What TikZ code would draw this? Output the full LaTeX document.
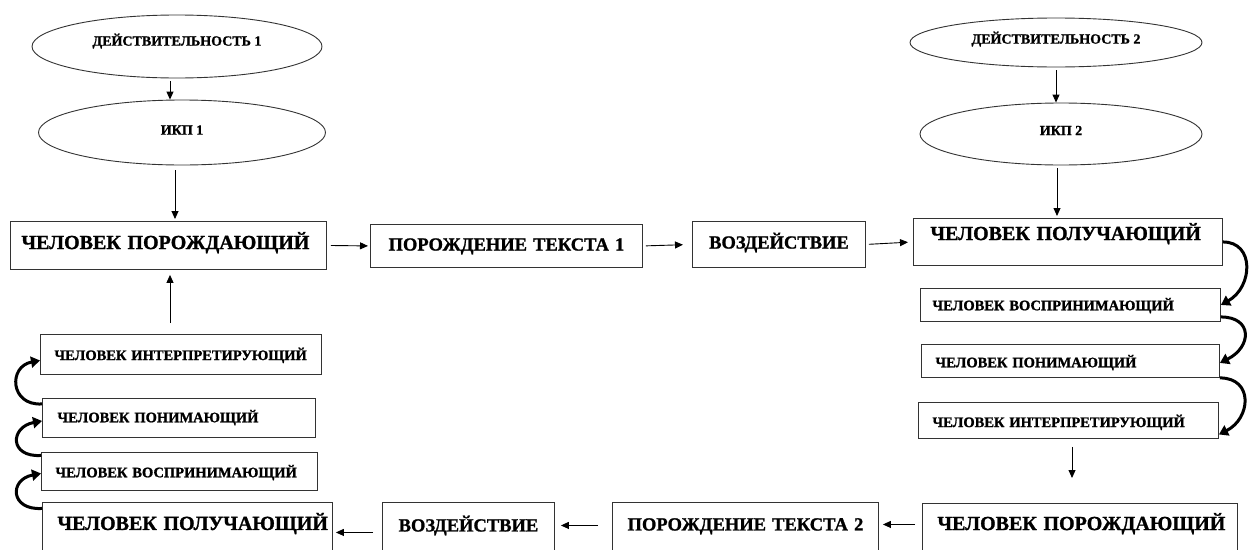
\documentclass[tikz,border=0pt]{standalone}
\usepackage{fontspec}
\setmainfont{Liberation Serif}[BoldFont={Liberation Serif Bold}, BoldFeatures={FakeBold=1.2}]
\usetikzlibrary{arrows.meta,shapes.geometric}
\tikzset{
  bx/.style={draw=black!80, line width=0.9pt, anchor=north west, inner ysep=0pt, align=left},
  cbx/.style={bx, align=center},
  el/.style={draw=black!80, line width=0.9pt, ellipse, inner sep=0pt, align=center, font=\fontsize{14}{16}\selectfont\bfseries},
  arr/.style={line width=0.9pt, -{Triangle[length=8pt,width=7pt]}},
  curv/.style={line width=3pt, -{Triangle[length=9pt,width=11pt]}},
  fL/.style={font=\fontsize{20}{24}\selectfont\bfseries},
  fM/.style={font=\fontsize{18.5}{22}\selectfont\bfseries},
  fS/.style={font=\fontsize{14.5}{17}\selectfont\bfseries},
}
\begin{document}
\begin{tikzpicture}[x=1pt,y=-1pt]
\clip (0,0) rectangle (1252,549);
\fill[white] (0,0) rectangle (1252,549);
% ellipses
\node[el, minimum width=290pt, minimum height=63pt, text height=10pt, text depth=11.8pt] (E1) at (177,46.5) {ДЕЙСТВИТЕЛЬНОСТЬ~1};
\node[el, minimum width=287pt, minimum height=65pt, text height=10pt, text depth=5.8pt] (E2) at (182,132.5) {ИКП~1};
\node[el, minimum width=292pt, minimum height=49pt, text height=10pt, text depth=7.8pt] (E3) at (1056,42.5) {ДЕЙСТВИТЕЛЬНОСТЬ~2};
\node[el, minimum width=282pt, minimum height=62pt, text height=10pt, text depth=7.8pt] (E4) at (1061,134) {ИКП~2};
% top row
\node[bx, fL, inner xsep=11pt, text width=294pt, text height=27.6pt, text depth=20.4pt] (A) at (10,221) {ЧЕЛОВЕК~ПОРОЖДАЮЩИЙ};
\node[cbx, fM, inner xsep=6pt, text width=260pt, text height=26.1pt, text depth=16.9pt] (B) at (370,224) {ПОРОЖДЕНИЕ~ТЕКСТА~1};
\node[cbx, fM, inner xsep=4pt, text width=165pt, text height=27.1pt, text depth=18.9pt] (C) at (692,221) {ВОЗДЕЙСТВИЕ};
\node[bx, fL, inner xsep=17pt, text width=275pt, text height=21.6pt, text depth=25.4pt] (D) at (913,218) {ЧЕЛОВЕК~ПОЛУЧАЮЩИЙ};
% right stack
\node[bx, fS, inner xsep=12pt, text width=276pt, text height=21.8pt, text depth=11.2pt] (R1) at (920,288) {ЧЕЛОВЕК~ВОСПРИНИМАЮЩИЙ};
\node[bx, fS, inner xsep=14pt, text width=270pt, text height=22.8pt, text depth=10.2pt] (R2) at (921,344) {ЧЕЛОВЕК~ПОНИМАЮЩИЙ};
\node[bx, fS, inner xsep=14pt, text width=272pt, text height=24.6pt, text depth=11.4pt] (R3) at (918,402) {ЧЕЛОВЕК~ИНТЕРПРЕТИРУЮЩИЙ};
\node[bx, fL, inner xsep=15pt, text width=285pt, text height=26.6pt, text depth=33.4pt] (R4) at (922,503) {ЧЕЛОВЕК~ПОРОЖДАЮЩИЙ};
% left stack
\node[bx, fS, inner xsep=14pt, text width=253pt, text height=25.6pt, text depth=14.4pt] (L1) at (40,334) {ЧЕЛОВЕК~ИНТЕРПРЕТИРУЮЩИЙ};
\node[bx, fS, inner xsep=15pt, text width=243pt, text height=23.8pt, text depth=15.2pt] (L2) at (42,398) {ЧЕЛОВЕК~ПОНИМАЮЩИЙ};
\node[bx, fS, inner xsep=14pt, text width=248pt, text height=24.8pt, text depth=13.2pt] (L3) at (41,452) {ЧЕЛОВЕК~ВОСПРИНИМАЮЩИЙ};
\node[bx, fL, inner xsep=15pt, text width=260pt, text height=27.5pt, text depth=32.5pt] (L4) at (42,502) {ЧЕЛОВЕК~ПОЛУЧАЮЩИЙ};
% bottom row
\node[cbx, fM, inner xsep=4pt, text width=164pt, text height=29pt, text depth=31pt] (BV) at (382,502) {ВОЗДЕЙСТВИЕ};
\node[cbx, fM, inner xsep=4pt, text width=258pt, text height=28pt, text depth=32pt] (BP) at (612,502) {ПОРОЖДЕНИЕ~ТЕКСТА~2};
% straight arrows
\draw[arr, shorten <=3pt] ([xshift=-7pt]E1.south) -- ([xshift=-7pt]E1.south |- E2.north);
\draw[arr, shorten <=5pt, shorten >=2pt] ([xshift=-7pt]E2.south) -- ([xshift=-7pt]E2.south |- A.north);
\draw[arr, shorten <=3pt] (E3.south) -- (E3.south |- E4.north);
\draw[arr, shorten <=3pt, shorten >=2pt] ([xshift=-4pt]E4.south) -- ([xshift=-4pt]E4.south |- D.north);
\draw[arr, shorten <=4pt, shorten >=2pt] (A.east) -- (B.west);
\draw[arr, shorten <=3pt, shorten >=9pt] (B.east) -- (C.west);
\draw[arr, shorten <=3pt, shorten >=5pt] (C.east) -- (D.west);
\draw[arr, shorten <=11pt, shorten >=5pt] (L1.north -| 170,0) -- (A.south -| 170,0);
\draw[arr, shorten <=8pt, shorten >=25pt] (R3.south -| 1072,0) -- (R4.north -| 1072,0);
\draw[arr, shorten <=7pt, shorten >=4pt] ([yshift=9pt]R4.west) -- ([yshift=9pt]R4.west -| BP.east);
\draw[arr, shorten <=14pt, shorten >=6pt] ([yshift=7pt]BP.west) -- ([yshift=7pt]BP.west -| BV.east);
\draw[arr, shorten <=9pt, shorten >=3pt] (BV.west) -- (L4.east);
% curved arrows right
\draw[curv] (D.east) .. controls +(32,0) and +(32,-18) .. (R1.east);
\draw[curv] ([yshift=-12pt]R1.east) .. controls +(32,0) and +(32,-16) .. ([yshift=-2pt]R2.east);
\draw[curv] (R2.south east) .. controls +(34,0) and +(32,-16) .. ([yshift=-14pt]R3.east);
% curved arrows left
\draw[curv] ([yshift=14pt]L2.west) .. controls +(-32,2) and +(-32,6) .. ([yshift=-6pt]L1.west);
\draw[curv] ([yshift=16pt]L3.west) .. controls +(-32,2) and +(-32,6) .. ([yshift=-3pt]L2.west);
\draw[curv] ([yshift=24pt]L4.west) .. controls +(-32,2) and +(-32,6) .. ([yshift=-2pt]L3.west);
\end{tikzpicture}
\end{document}
